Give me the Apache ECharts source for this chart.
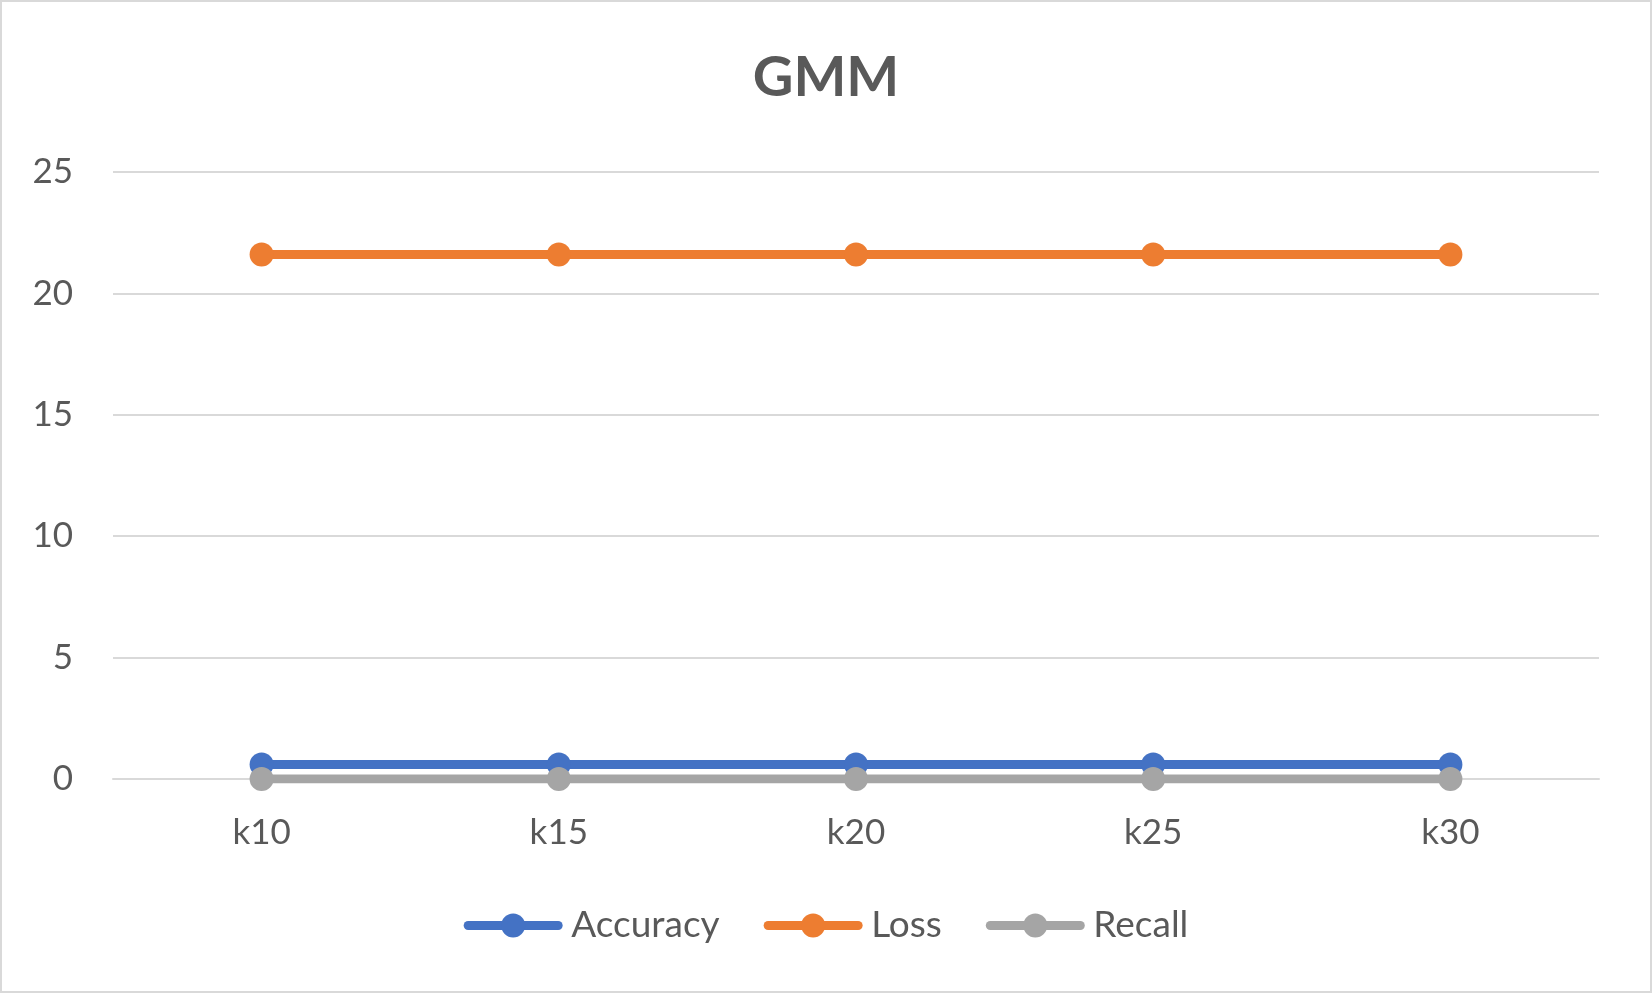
<!DOCTYPE html>
<html>
<head>
<meta charset="utf-8">
<title>GMM</title>
<script src="https://cdn.jsdelivr.net/npm/echarts@6/dist/echarts.min.js"></script>
<style>
  html, body { margin: 0; padding: 0; background: #fff; }
  #chart { width: 1652px; height: 993px; box-sizing: border-box; border: 2px solid #d9d9d9; }
</style>
</head>
<body>
<div id="chart"></div>
<script>
// values
const categories = ['k10', 'k15', 'k20', 'k25', 'k30'];
const accuracy = [0.6, 0.6, 0.6, 0.6, 0.6];
const loss = [21.6, 21.6, 21.6, 21.6, 21.6];
const recall = [0, 0, 0, 0, 0];
const yTicks = { min: 0, max: 25, interval: 5 };

const font = 'Lato, "Open Sans", sans-serif';
const textColor = '#595959';

function lineSeries(name, data, color) {
  return {
    name: name,
    type: 'line',
    data: data,
    symbol: 'circle',
    symbolSize: 24,
    lineStyle: { width: 9, color: color, cap: 'round' },
    itemStyle: { color: color },
    emphasis: { disabled: true }
  };
}

const chart = echarts.init(document.getElementById('chart'));
chart.setOption({
  animation: false,
  title: {
    text: 'GMM',
    left: 'center',
    top: 43,
    textStyle: { fontFamily: font, fontSize: 56, fontWeight: 'bold', color: textColor }
  },
  legend: {
    top: 900,
    left: 'center',
    itemWidth: 90,
    itemHeight: 30,
    itemGap: 44,
    lineStyle: { width: 9, cap: 'round' },
    textStyle: { fontFamily: font, fontSize: 37, color: textColor, padding: [0, 0, 0, 8] },
    data: ['Accuracy', 'Loss', 'Recall']
  },
  grid: { left: 111, right: 51, top: 170, bottom: 212 },
  xAxis: {
    type: 'category',
    data: categories,
    axisLine: { lineStyle: { color: '#d9d9d9', width: 2 } },
    axisTick: { show: false },
    axisLabel: { fontFamily: font, fontSize: 35, color: textColor, margin: 36 }
  },
  yAxis: {
    type: 'value',
    min: yTicks.min,
    max: yTicks.max,
    interval: yTicks.interval,
    axisLine: { show: false },
    axisTick: { show: false },
    splitLine: { lineStyle: { color: '#d9d9d9', width: 2 } },
    axisLabel: { fontFamily: font, fontSize: 35, color: textColor, margin: 40 }
  },
  series: [
    lineSeries('Accuracy', accuracy, '#4472c4'),
    lineSeries('Loss', loss, '#ed7d31'),
    lineSeries('Recall', recall, '#a5a5a5')
  ]
});
</script>
</body>
</html>
